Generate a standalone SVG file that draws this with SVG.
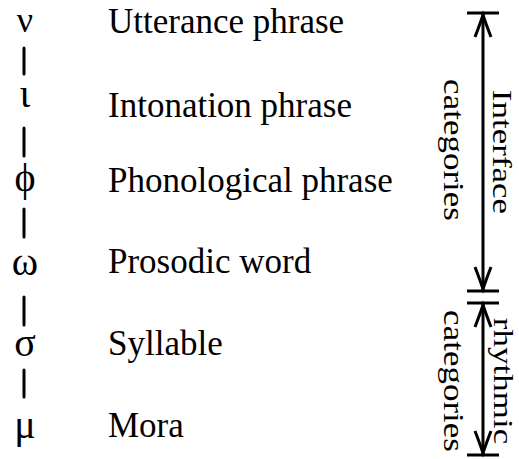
<svg xmlns="http://www.w3.org/2000/svg" width="519" height="459" viewBox="0 0 519 459">
  <style>
    .lbl { font-family: "Liberation Serif", serif; font-size: 35px; fill: #000; }
    .sym { font-family: "Liberation Serif", serif; font-size: 40px; fill: #000; text-anchor: middle; }
    .side { font-family: "Liberation Serif", serif; font-size: 35px; fill: #000; text-anchor: middle; }
    .link { stroke: #000; stroke-width: 3; stroke-linecap: round; fill: none; }
    .rule { stroke: #000; stroke-width: 3; fill: none; }
    .tip { stroke: #000; stroke-width: 3; fill: none; stroke-linejoin: miter; }
  </style>
  <rect width="519" height="459" fill="#fff"/>

  <!-- prosodic hierarchy levels -->
  <g id="utterance"><text class="sym" x="25" y="32" style="font-size:36px">ν</text><text class="lbl" x="108" y="33">Utterance phrase</text></g>
  <g id="intonation"><text class="sym" x="25" y="107">ι</text><text class="lbl" x="108" y="117">Intonation phrase</text></g>
  <g id="phonological"><text class="sym" x="25" y="191">ϕ</text><text class="lbl" x="108" y="192">Phonological phrase</text></g>
  <g id="prosodic-word"><text class="sym" x="25" y="275">ω</text><text class="lbl" x="108" y="273">Prosodic word</text></g>
  <g id="syllable"><text class="sym" x="25" y="356">σ</text><text class="lbl" x="108" y="355">Syllable</text></g>
  <g id="mora"><text class="sym" x="25" y="438">μ</text><text class="lbl" x="108" y="437">Mora</text></g>

  <!-- links between levels -->
  <g id="connectors">
    <line class="link" x1="24" y1="48" x2="24" y2="74"/>
    <line class="link" x1="24" y1="128" x2="24" y2="156"/>
    <line class="link" x1="24" y1="209" x2="24" y2="237"/>
    <line class="link" x1="24" y1="297" x2="24" y2="325"/>
    <line class="link" x1="24" y1="370" x2="24" y2="397"/>
  </g>

  <!-- interface span -->
  <g id="interface-span">
    <line class="rule" x1="467" y1="13" x2="499" y2="13"/>
    <line class="rule" x1="467" y1="291" x2="499" y2="291"/>
    <line class="rule" x1="483" y1="14" x2="483" y2="290"/>
    <path class="tip" d="M475,37 Q480,24 483,15 Q486,24 491,37"/>
    <path class="tip" d="M475,267 Q480,280 483,289 Q486,280 491,267"/>
    <text class="side" transform="translate(493,152) rotate(90) scale(1,0.8)">Interface</text>
    <text class="side" transform="translate(444,150) rotate(90) scale(1,0.85)">categories</text>
  </g>

  <!-- rhythmic span -->
  <g id="rhythmic-span">
    <line class="rule" x1="467" y1="303" x2="499" y2="303"/>
    <line class="rule" x1="467" y1="455" x2="499" y2="455"/>
    <line class="rule" x1="483" y1="304" x2="483" y2="454"/>
    <path class="tip" d="M475,327 Q480,314 483,305 Q486,314 491,327"/>
    <path class="tip" d="M475,431 Q480,444 483,453 Q486,444 491,431"/>
    <text class="side" transform="translate(494,381) rotate(90) scale(1,0.8)">rhythmic</text>
    <text class="side" transform="translate(444,381) rotate(90) scale(1,0.85)">categories</text>
  </g>
</svg>
